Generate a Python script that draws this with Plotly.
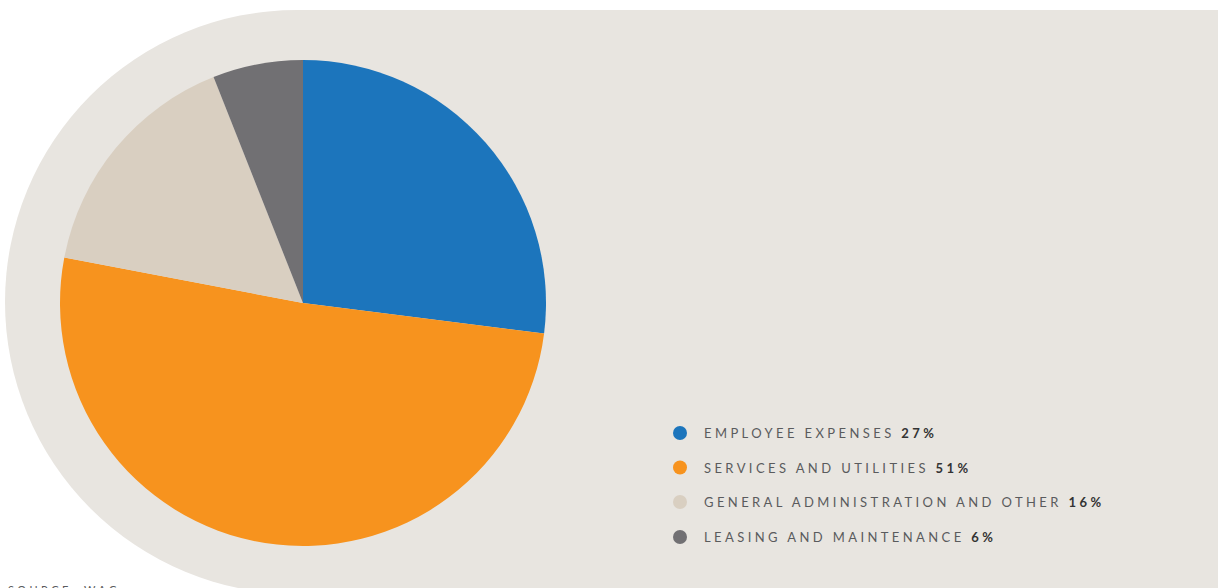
import plotly.graph_objects as go

# Operating expenditure breakdown
categories = ["EMPLOYEE EXPENSES", "SERVICES AND UTILITIES",
              "GENERAL ADMINISTRATION AND OTHER", "LEASING AND MAINTENANCE"]
shares = [27, 51, 16, 6]
colors = ["#1C75BC", "#F7931E", "#D9CFC1", "#717073"]

W, H = 1218, 588
BG = "#E8E5E0"


def px(x):
    return x / W


def py(y):
    return 1 - y / H


fig = go.Figure()

fig.add_trace(go.Pie(
    labels=categories,
    values=shares,
    sort=False,
    direction="clockwise",
    rotation=0,
    marker=dict(colors=colors, line=dict(width=0)),
    textinfo="none",
    hoverinfo="label+percent",
    showlegend=False,
    domain=dict(x=[px(60), px(546)], y=[py(546), py(60)]),
))

shapes = [
    # rounded backdrop: half-disc on the left joined to a panel on the right
    dict(type="circle", xref="paper", yref="paper", layer="below",
         x0=px(5), x1=px(589), y0=py(594), y1=py(10),
         fillcolor=BG, line=dict(width=0)),
    dict(type="rect", xref="paper", yref="paper", layer="below",
         x0=px(297), x1=px(1230), y0=py(600), y1=py(10),
         fillcolor=BG, line=dict(width=0)),
]

annotations = []
row_y = [433, 467.5, 502, 537]
for name, val, col, y in zip(categories, shares, colors, row_y):
    shapes.append(dict(type="circle", xref="paper", yref="paper",
                       x0=px(673), x1=px(687), y0=py(y + 7), y1=py(y - 7),
                       fillcolor=col, line=dict(width=0)))
    annotations.append(dict(
        xref="paper", yref="paper", x=px(702), y=py(y),
        xanchor="left", yanchor="middle", align="left", showarrow=False,
        text=f"{name} <b><span style='color:#333333'>{val}%</span></b>",
        font=dict(family="Lato", size=13, color="#5A5B5D"),
    ))

annotations.append(dict(
    xref="paper", yref="paper", x=px(6), y=py(581),
    xanchor="left", yanchor="top", align="left", showarrow=False,
    text="SOURCE: WAC",
    font=dict(family="Lato", size=11, color="#5A5B5D"),
))

fig.update_layout(
    width=W, height=H,
    margin=dict(l=0, r=0, t=0, b=0),
    paper_bgcolor="white",
    plot_bgcolor="white",
    shapes=shapes,
    annotations=annotations,
)

# widen the tracking of the caption texts
spacing_js = """
document.querySelectorAll('text.annotation-text').forEach(function(t){
  t.style.letterSpacing = '3.4px';
});
"""

fig.write_html("out.html", post_script=spacing_js,
               config={"displayModeBar": False})
